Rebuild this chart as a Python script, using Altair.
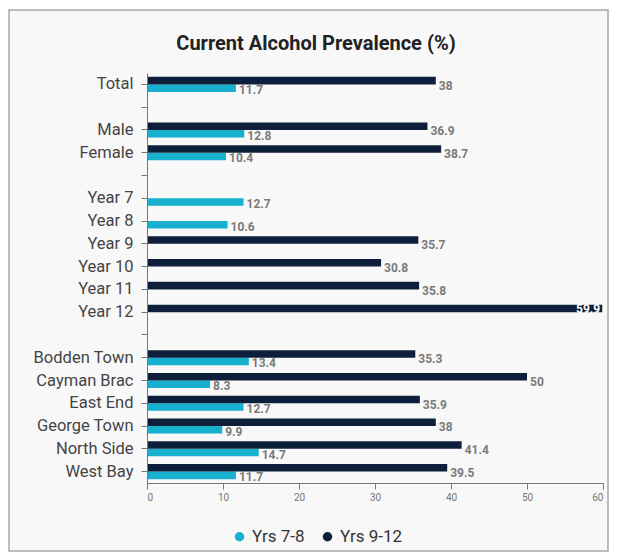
import altair as alt
import pandas as pd

# Rows of the chart, top to bottom; whitespace-only names are spacer rows
categories = ["Total", " ", "Male", "Female", "  ", "Year 7", "Year 8", "Year 9",
              "Year 10", "Year 11", "Year 12", "   ", "Bodden Town", "Cayman Brac",
              "East End", "George Town", "North Side", "West Bay"]
yrs_7_8 = [11.7, None, 12.8, 10.4, None, 12.7, 10.6, None, None, None, None, None,
           13.4, 8.3, 12.7, 9.9, 14.7, 11.7]
yrs_9_12 = [38, None, 36.9, 38.7, None, None, None, 35.7, 30.8, 35.8, 59.9, None,
            35.3, 50, 35.9, 38, 41.4, 39.5]
series_names = ["Yrs 7-8", "Yrs 9-12"]
series_colors = ["#17b1cf", "#0e1f3b"]
x_ticks = [0, 10, 20, 30, 40, 50, 60]

rows = []
for cat, a, b in zip(categories, yrs_7_8, yrs_9_12):
    if a is not None:
        rows.append({"group": cat, "series": "Yrs 7-8", "value": a})
    if b is not None:
        rows.append({"group": cat, "series": "Yrs 9-12", "value": b})
df = pd.DataFrame(rows)

FONT = "Roboto"

y_enc = alt.Y(
    "group:N",
    scale=alt.Scale(domain=categories, paddingInner=0.34, paddingOuter=0.17),
    axis=alt.Axis(title=None, labelExpr="trim(datum.label)", labelFont=FONT,
                  labelFontSize=16.5, labelColor="#444", labelPadding=8,
                  tickColor="#777", tickSize=6, domainColor="#777", zindex=1),
)
x_enc = alt.X(
    "value:Q",
    scale=alt.Scale(domain=[0, 60], nice=False),
    axis=alt.Axis(title=None, values=x_ticks, grid=False, labelFont=FONT,
                  labelFontSize=10, labelColor="#777", tickColor="#777",
                  tickSize=6, domainColor="#777", labelPadding=3, zindex=1),
)
y_off = alt.YOffset("series:N", scale=alt.Scale(domain=["Yrs 9-12", "Yrs 7-8"]))

base = alt.Chart(df).encode(y=y_enc, yOffset=y_off)

bars = base.mark_bar().encode(
    x=x_enc,
    color=alt.Color(
        "series:N",
        scale=alt.Scale(domain=series_names, range=series_colors),
        legend=alt.Legend(title=None, orient="none", direction="horizontal",
                          legendX=84, legendY=455, symbolType="circle",
                          symbolSize=90, labelFont=FONT, labelFontSize=17,
                          labelColor="#333", columnPadding=14, symbolStrokeWidth=0),
    ),
)

label_common = dict(font=FONT, fontSize=12, fontWeight="bold", baseline="middle")

labels_78 = base.transform_filter(
    "datum.series == 'Yrs 7-8'"
).mark_text(align="left", dx=3, dy=2, color="#7a7a7a", **label_common).encode(
    x="value:Q", text=alt.Text("value:Q")
)
labels_912 = base.transform_filter(
    "datum.series == 'Yrs 9-12' && datum.value < 55"
).mark_text(align="left", dx=3, dy=5, color="#7a7a7a", **label_common).encode(
    x="value:Q", text=alt.Text("value:Q")
)
labels_inside = base.transform_filter(
    "datum.value >= 55"
).mark_text(align="right", dx=-2, dy=1, color="white", **label_common).encode(
    x="value:Q", text=alt.Text("value:Q")
)

# Light panel with a grey border behind the whole chart
frame = alt.Chart(alt.Data(values=[{}])).mark_rect(
    fill="#f8f8f8", stroke="#a8a8a8", strokeWidth=1.5
).encode(
    x=alt.value(-138), x2=alt.value(461), y=alt.value(-63), y2=alt.value(478)
)

chart = alt.layer(frame, bars, labels_78, labels_912, labels_inside).properties(
    width=456,
    height=410,
    title=alt.TitleParams("Current Alcohol Prevalence (%)", font=FONT, fontSize=20,
                          fontWeight="bold", color="#222", dx=-59, offset=-45),
    autosize=alt.AutoSizeParams(type="none"),
    padding={"left": 147, "top": 73, "right": 16, "bottom": 76},
).configure_view(stroke=None).configure(background="white")

chart.save("out.html", embed_options={"renderer": "svg", "actions": False})
